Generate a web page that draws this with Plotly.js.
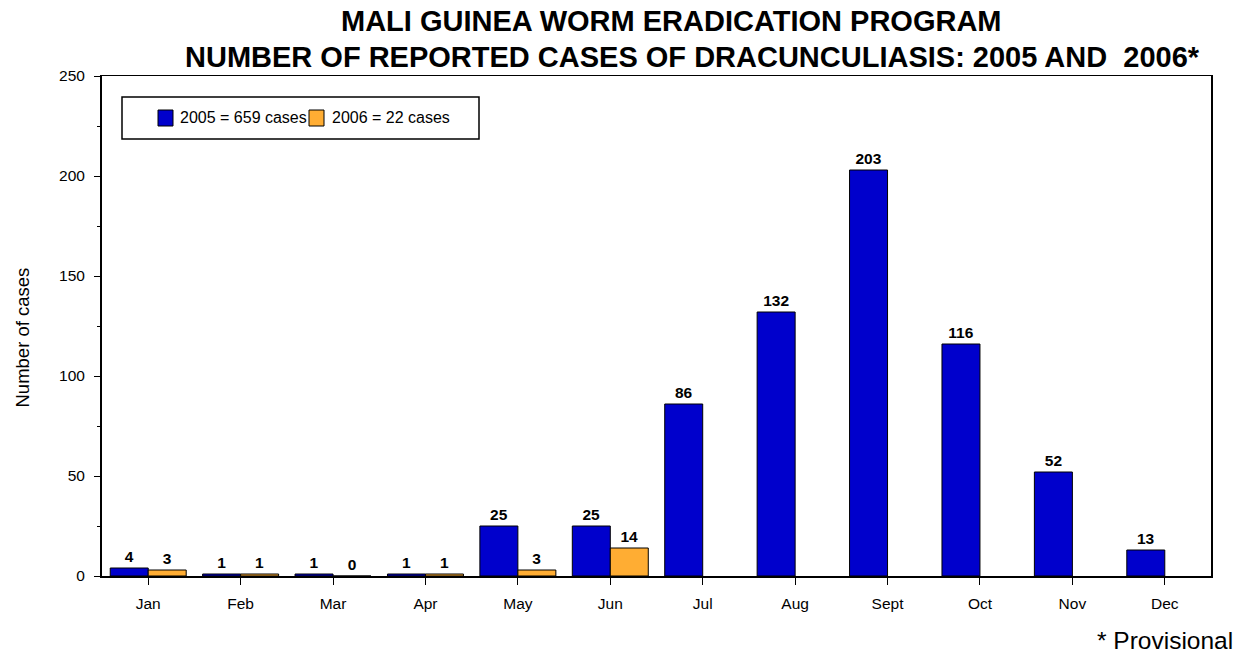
<!DOCTYPE html>
<html>
<head>
<meta charset="utf-8">
<script src="https://cdn.plot.ly/plotly-3.0.1.min.js"></script>
<style>html,body{margin:0;padding:0;background:#fff;}#chart{width:1247px;height:657px;}</style>
</head>
<body>
<div id="chart"></div>
<script>
const months = ["Jan","Feb","Mar","Apr","May","Jun","Jul","Aug","Sept","Oct","Nov","Dec"];
const cases2005 = [4,1,1,1,25,25,86,132,203,116,52,13];
const cases2006 = [3,1,0,1,3,14,null,null,null,null,null,null];
const seriesNames = ["2005 = 659 cases","2006 = 22 cases"];
const seriesColors = ["#0000CC","#FFAD33"];
const yTicks = [0,50,100,150,200,250];
const titleLines = ["MALI GUINEA WORM ERADICATION PROGRAM","NUMBER OF REPORTED CASES OF DRACUNCULIASIS: 2005 AND  2006*"];

const FONT = "Liberation Sans, Arial, sans-serif";

// plot-area geometry helpers (pixels -> paper)
const L = 102, R = 36, T = 76, B = 81, W = 1247, H = 657;
const PW = W - L - R, PH = H - T - B;
const px = x => (x - L) / PW;
const py = y => (H - B - y) / PH;

function barTrace(vals, name, color){
  return {
    type:"bar", x:months, y:vals, name:name,
    marker:{color:color, line:{color:"#000", width:1}},
    text:vals.map(v => v === null ? "" : String(v)),
    textposition:"outside", cliponaxis:false,
    textfont:{family:FONT, size:15.5, color:"#000", weight:"bold"},
    showlegend:false
  };
}

const data = [
  barTrace(cases2005, seriesNames[0], seriesColors[0]),
  barTrace(cases2006, seriesNames[1], seriesColors[1])
];

// legend drawn as a boxed key
const legendBox = {x0:122, x1:479, y0:97, y1:139};
const legendItems = [
  {sx:158, tx:178},
  {sx:309, tx:330}
];
const shapes = [{
  type:"rect", xref:"paper", yref:"paper",
  x0:px(legendBox.x0), x1:px(legendBox.x1), y0:py(legendBox.y1), y1:py(legendBox.y0),
  line:{color:"#000", width:1.5}, fillcolor:"#fff", layer:"above"
}];
const annotations = [];
legendItems.forEach((it, i) => {
  shapes.push({
    type:"rect", xref:"paper", yref:"paper",
    x0:px(it.sx), x1:px(it.sx + 15), y0:py(126), y1:py(110),
    line:{color:"#000", width:1}, fillcolor:seriesColors[i], layer:"above"
  });
  annotations.push({
    text:seriesNames[i], xref:"paper", yref:"paper", x:px(it.tx), y:py(118),
    xanchor:"left", yanchor:"middle", showarrow:false,
    font:{family:FONT, size:16, color:"#000"}
  });
});

annotations.push(
  {text:"<b>"+titleLines[0]+"</b>", xref:"paper", yref:"paper", x:px(671.5), y:py(21), xanchor:"center", yanchor:"middle", showarrow:false, font:{family:FONT, size:29, color:"#000"}},
  {text:"<b>"+titleLines[1]+"</b>", xref:"paper", yref:"paper", x:px(692), y:py(57), xanchor:"center", yanchor:"middle", showarrow:false, font:{family:FONT, size:29, color:"#000"}},
  {text:"Number of cases", xref:"paper", yref:"paper", x:px(21.5), y:py(338), xanchor:"center", yanchor:"middle", textangle:-90, showarrow:false, font:{family:FONT, size:18.5, color:"#000"}},
  {text:"* Provisional", xref:"paper", yref:"paper", x:px(1235), y:py(640), xanchor:"right", yanchor:"middle", showarrow:false, font:{family:FONT, size:24.5, color:"#000"}}
);

const layout = {
  width:W, height:H,
  margin:{l:L, r:R, t:T, b:B},
  paper_bgcolor:"#fff", plot_bgcolor:"#fff",
  font:{family:FONT, color:"#000"},
  barmode:"group", bargap:0.178, bargroupgap:0,
  showlegend:false,
  xaxis:{
    type:"category", showline:true, linecolor:"#000", linewidth:1.5, mirror:true,
    ticks:"outside", ticklen:7, tickcolor:"#000", tickwidth:1, ticklabelstandoff:6,
    tickfont:{size:15.5, color:"#000"}, showgrid:false, zeroline:false
  },
  yaxis:{
    range:[0,250], tickvals:yTicks, ticktext:yTicks.map(String),
    showline:true, linecolor:"#000", linewidth:2, mirror:true,
    ticks:"outside", ticklen:6, tickcolor:"#000", tickwidth:1, ticklabelstandoff:6,
    minor:{ticks:"outside", ticklen:3, dtick:25, tick0:0, tickcolor:"#000", showgrid:false},
    tickfont:{size:15.5, color:"#000"}, showgrid:false, zeroline:false
  },
  shapes:shapes,
  annotations:annotations
};

Plotly.newPlot("chart", data, layout, {displayModeBar:false, staticPlot:true});
</script>
</body>
</html>
